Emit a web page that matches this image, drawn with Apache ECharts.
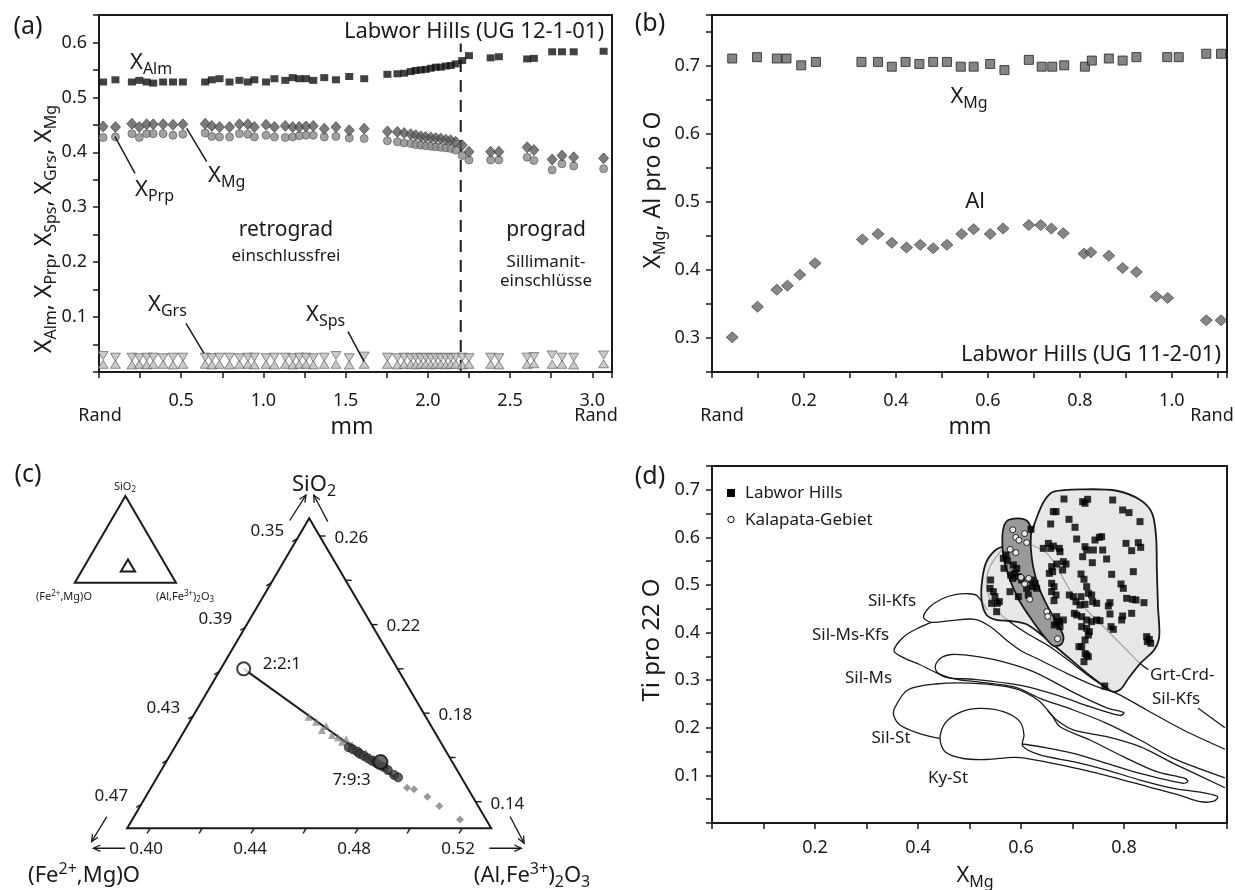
<!DOCTYPE html>
<html>
<head>
<meta charset="utf-8">
<title>Granat- und Biotitchemie</title>
<script src="https://cdn.jsdelivr.net/npm/echarts@6.0.0/dist/echarts.min.js"></script>
<style>
html,body{margin:0;padding:0;background:#fff;}
#chart{width:1235px;height:890px;}
</style>
</head>
<body>
<div id="chart"></div>
<script>
// ================= DATA =================
// ---- Panel (a): garnet profile UG 12-1-01 (distance in mm) ----
const aDist = [0.025,0.10,0.20,0.245,0.29,0.33,0.39,0.45,0.51,0.646,0.686,0.733,0.794,0.854,0.905,0.945,1.016,1.067,1.133,1.178,1.218,1.259,1.303,1.370,1.441,1.522,1.613,1.754,1.815,1.856,1.896,1.926,1.957,1.987,2.018,2.048,2.078,2.109,2.139,2.169,2.209,2.250,2.382,2.432,2.604,2.645,2.756,2.816,2.887,3.069];
const aAlm = [0.528,0.532,0.528,0.531,0.528,0.526,0.528,0.528,0.528,0.528,0.532,0.534,0.528,0.531,0.528,0.532,0.528,0.534,0.531,0.536,0.534,0.534,0.531,0.536,0.532,0.538,0.534,0.542,0.543,0.544,0.547,0.549,0.550,0.551,0.553,0.555,0.555,0.557,0.558,0.561,0.567,0.576,0.572,0.574,0.570,0.571,0.583,0.583,0.583,0.584];
const aMg = [0.447,0.446,0.452,0.446,0.451,0.451,0.451,0.450,0.451,0.452,0.448,0.446,0.446,0.451,0.451,0.446,0.450,0.446,0.448,0.446,0.446,0.447,0.448,0.443,0.446,0.440,0.443,0.438,0.437,0.435,0.433,0.431,0.429,0.428,0.427,0.426,0.425,0.423,0.422,0.419,0.413,0.401,0.401,0.401,0.409,0.404,0.387,0.394,0.391,0.389];
const aPrp = [0.427,0.428,0.434,0.427,0.434,0.434,0.434,0.431,0.433,0.435,0.429,0.428,0.428,0.434,0.433,0.428,0.431,0.428,0.427,0.428,0.430,0.431,0.431,0.428,0.429,0.426,0.425,0.421,0.419,0.417,0.416,0.414,0.413,0.412,0.411,0.410,0.409,0.408,0.407,0.404,0.394,0.386,0.386,0.386,0.391,0.385,0.368,0.379,0.375,0.370];
const aGrs = [0.014,0.014,0.013,0.014,0.013,0.014,0.014,0.013,0.014,0.014,0.013,0.014,0.013,0.014,0.014,0.013,0.014,0.013,0.014,0.013,0.014,0.014,0.013,0.014,0.014,0.013,0.014,0.014,0.013,0.014,0.014,0.013,0.014,0.014,0.013,0.014,0.014,0.013,0.014,0.014,0.013,0.014,0.014,0.013,0.014,0.015,0.014,0.014,0.013,0.015];
const aSps = [0.030,0.027,0.027,0.026,0.027,0.027,0.026,0.027,0.027,0.027,0.026,0.027,0.027,0.026,0.027,0.027,0.026,0.027,0.027,0.026,0.027,0.027,0.026,0.027,0.030,0.026,0.029,0.027,0.026,0.027,0.026,0.027,0.026,0.027,0.026,0.027,0.026,0.027,0.026,0.027,0.027,0.026,0.027,0.026,0.027,0.028,0.031,0.027,0.027,0.031];
const aBoundary = 2.2;      // retrograd / prograd boundary (mm)
const aBoundaryTop = 0.598;

// ---- Panel (b): profile UG 11-2-01 ----
const bMgDist = [0.044,0.098,0.141,0.162,0.194,0.226,0.325,0.361,0.391,0.421,0.451,0.481,0.511,0.541,0.569,0.605,0.636,0.689,0.717,0.740,0.766,0.811,0.826,0.863,0.893,0.923,0.990,1.015,1.075,1.107];
const bXMg = [0.711,0.713,0.711,0.711,0.701,0.706,0.706,0.706,0.699,0.706,0.703,0.706,0.706,0.699,0.699,0.703,0.694,0.709,0.699,0.699,0.701,0.699,0.708,0.711,0.708,0.713,0.713,0.713,0.718,0.718];
const bAlDist = [0.044,0.099,0.141,0.164,0.191,0.224,0.327,0.361,0.391,0.423,0.453,0.481,0.511,0.543,0.569,0.605,0.633,0.689,0.715,0.738,0.764,0.809,0.824,0.863,0.893,0.923,0.966,0.991,1.075,1.107];
const bAl = [0.301,0.346,0.371,0.377,0.393,0.410,0.445,0.453,0.440,0.433,0.437,0.432,0.437,0.453,0.460,0.453,0.461,0.466,0.466,0.461,0.454,0.424,0.426,0.421,0.403,0.397,0.361,0.359,0.326,0.326];

// ---- Panel (c): ternary SiO2 - (Fe,Mg)O - (Al,Fe)2O3, values as [SiO2, (Al,Fe3+)2O3] fractions ----
const T_AMIN = 0.3912, T_SMIN = 0.128, T_SPAN = 0.14;   // shown part of the triangle
const cLeftTicks = [0.35,0.37,0.39,0.41,0.43,0.45,0.47];
const cLeftLabels = [0.35,0.39,0.43,0.47];
const cRightTicks = [0.14,0.16,0.18,0.20,0.22,0.24,0.26];
const cRightLabels = [0.26,0.22,0.18,0.14];
const cBottomTicks = [0.40,0.42,0.44,0.46,0.48,0.50,0.52];
const cBottomLabels = [0.40,0.44,0.48,0.52];
const cRatioA = [2,2,1];   // (Fe,Mg)O : (Al,Fe)2O3 : SiO2
const cRatioB = [7,9,3];
const cTieEnd = [0.1506,0.4833];
const cTriangles = [[0.1784,0.4358],[0.1761,0.4398],[0.1724,0.4439],[0.1742,0.4446],[0.1701,0.4489],[0.1691,0.4517],[0.1671,0.4543],[0.1682,0.4553],[0.1656,0.4589],[0.1634,0.4630],[0.1619,0.4661],[0.1596,0.4703],[0.1574,0.4745],[0.1558,0.4773]];
const cCircles = [[0.1646,0.4581],[0.1637,0.4601],[0.1626,0.4624],[0.1616,0.4639],[0.1607,0.4659],[0.1596,0.4680],[0.1585,0.4701],[0.1576,0.4721],[0.1558,0.4758],[0.1543,0.4783],[0.1521,0.4818],[0.1510,0.4839]];
const cDiamonds = [[0.1463,0.4897],[0.1456,0.4927],[0.1423,0.4995],[0.1381,0.5062],[0.1320,0.5172]];
const cArrows = [
  [[0.267,0.3842],[0.2785,0.3847]], [[0.2665,0.3991],[0.2785,0.3877]],
  [[0.1333,0.3807],[0.1220,0.3805]], [[0.119,0.3949],[0.119,0.3827]],
  [[0.119,0.5350],[0.119,0.5473]], [[0.1333,0.5358],[0.1213,0.5472]]
];

// ---- Panel (d): biotite Ti (pro 22 O) vs X_Mg ----
const dLabwor = [[0.6835,0.6807],[0.7197,0.6751],[0.7294,0.6800],[0.7243,0.6716],[0.778,0.6786],[0.6628,0.6541],[0.668,0.6541],[0.7974,0.6576],[0.8097,0.652],[0.8311,0.6331],[0.6576,0.6282],[0.6932,0.638],[0.7049,0.6212],[0.7521,0.6001],[0.7566,0.6015],[0.7437,0.5945],[0.6576,0.577],[0.6628,0.5819],[0.6744,0.577],[0.6757,0.57],[0.7081,0.5966],[0.7243,0.5805],[0.7275,0.5735],[0.7405,0.5735],[0.7586,0.5735],[0.8039,0.5875],[0.8278,0.5889],[0.8324,0.5791],[0.8149,0.5721],[0.7197,0.5595],[0.7663,0.5546],[0.7385,0.5469],[0.6822,0.549],[0.6874,0.5441],[0.6693,0.5441],[0.6595,0.5385],[0.655,0.5245],[0.6615,0.528],[0.6809,0.5315],[0.7165,0.5231],[0.7761,0.5224],[0.8181,0.528],[0.7223,0.512],[0.7275,0.4965],[0.7942,0.5021],[0.7987,0.493],[0.6595,0.5035],[0.6641,0.4965],[0.6595,0.486],[0.668,0.479],[0.6938,0.479],[0.7016,0.4755],[0.7165,0.4755],[0.7307,0.4825],[0.7372,0.479],[0.7392,0.465],[0.7469,0.4615],[0.8052,0.472],[0.8168,0.4699],[0.8233,0.4685],[0.8388,0.4629],[0.7728,0.4629],[0.7696,0.4559],[0.7068,0.465],[0.7146,0.458],[0.7243,0.4594],[0.6641,0.4671],[0.7036,0.4405],[0.7081,0.437],[0.7178,0.4335],[0.7275,0.4265],[0.7372,0.423],[0.7469,0.4265],[0.7534,0.4251],[0.7728,0.4391],[0.7974,0.4349],[0.7955,0.4265],[0.8149,0.4405],[0.6744,0.423],[0.6822,0.4265],[0.7178,0.4125],[0.7275,0.409],[0.7327,0.402],[0.7748,0.4125],[0.7793,0.4069],[0.6647,0.416],[0.6693,0.4335],[0.7307,0.395],[0.7243,0.3845],[0.7178,0.3705],[0.844,0.3915],[0.8492,0.3859],[0.8518,0.3775],[0.8453,0.381],[0.7275,0.3529],[0.7223,0.3389],[0.7307,0.3494],[0.6194,0.617],[0.5709,0.563],[0.5657,0.556],[0.5735,0.5511],[0.567,0.535],[0.5851,0.542],[0.5916,0.535],[0.5883,0.5245],[0.5799,0.521],[0.5838,0.514],[0.5948,0.5175],[0.6013,0.5105],[0.6207,0.5105],[0.6272,0.5035],[0.6227,0.4965],[0.6304,0.493],[0.611,0.493],[0.5411,0.5105],[0.5398,0.493],[0.5463,0.486],[0.5495,0.4755],[0.554,0.4615],[0.543,0.4615],[0.5579,0.465],[0.5527,0.4439],[0.5786,0.486],[0.5948,0.4755],[0.6142,0.479],[0.6434,0.577],[0.6531,0.5875],[0.6693,0.4209],[0.6757,0.4125],[0.7126,0.3705],[0.7627,0.2878],[0.7245,0.356]];
const dKalapata = [[0.584,0.616],[0.607,0.608],[0.59,0.600],[0.596,0.594],[0.611,0.589],[0.579,0.575],[0.59,0.568],[0.60,0.516],[0.615,0.514],[0.607,0.502],[0.617,0.470],[0.65,0.444],[0.652,0.434],[0.671,0.387]];
// field outlines (X_Mg, Ti)
const dFieldSilKfs = [[0.996,0.155],[0.9152,0.1954],[0.844,0.2374],[0.7858,0.2725],[0.747,0.2864],[0.6887,0.3144],[0.6369,0.3424],[0.60,0.362],[0.5714,0.3845],[0.5408,0.4124],[0.5101,0.428],[0.4643,0.4251],[0.426,0.4216],[0.4107,0.432],[0.4222,0.4531],[0.4451,0.47],[0.4718,0.4796],[0.4987,0.4816],[0.514,0.4783],[0.5239,0.465],[0.535,0.447]];
const dFieldSilMsKfs = [[0.426,0.4216],[0.4031,0.411],[0.3724,0.3914],[0.3534,0.362],[0.3724,0.347],[0.4031,0.333],[0.435,0.316],[0.47,0.303],[0.52,0.296],[0.587,0.286],[0.637,0.262],[0.7016,0.2374],[0.7664,0.2094],[0.8311,0.1744],[0.8958,0.1359],[0.996,0.095]];
const dFieldSilMs = [[0.4336,0.33],[0.445,0.347],[0.465,0.354],[0.49,0.353],[0.5485,0.343],[0.6238,0.318],[0.7016,0.2745],[0.7664,0.242],[0.8,0.2317],[0.7922,0.2259],[0.734,0.2443],[0.6757,0.2665],[0.6,0.289],[0.5088,0.3019],[0.4567,0.3054],[0.4375,0.316]];
const dFieldSilSt = [[0.354,0.24],[0.38,0.2794],[0.4336,0.292],[0.5101,0.2934],[0.5868,0.2829],[0.6327,0.2584],[0.66,0.226],[0.6757,0.2023],[0.734,0.1744],[0.7987,0.1393],[0.8634,0.1078],[0.9184,0.0939],[0.924,0.0875],[0.9152,0.0834],[0.8311,0.1044],[0.7664,0.1254],[0.7016,0.1464],[0.65,0.158],[0.6,0.166],[0.52,0.172],[0.4414,0.1779],[0.3974,0.1898],[0.365,0.2059],[0.354,0.222]];
const dFieldSilStBranch = [[0.652,0.236],[0.6693,0.2164],[0.7016,0.1954],[0.7664,0.1813],[0.8311,0.1603],[0.8958,0.1254],[0.996,0.074]];
const dFieldKySt = [[0.4427,0.1779],[0.4524,0.2094],[0.4816,0.2325],[0.5204,0.2409],[0.5657,0.2339],[0.598,0.2129],[0.6058,0.1849],[0.603,0.162],[0.637,0.1429],[0.7016,0.1288],[0.7664,0.1113],[0.8311,0.0903],[0.8958,0.0729],[0.9606,0.0624],[0.982,0.0553],[0.975,0.046],[0.9476,0.0447],[0.9087,0.058],[0.844,0.077],[0.7793,0.096],[0.7146,0.113],[0.6498,0.128],[0.59,0.138],[0.5333,0.1334],[0.488,0.1355],[0.4524,0.1499]];
const dGrayA = [[0.5625,0.5735],[0.5398,0.5385],[0.5333,0.5035],[0.5431,0.4615],[0.5657,0.4334],[0.6111,0.3985],[0.6563,0.3704],[0.7081,0.3284],[0.75,0.295],[0.7858,0.2725]];
const dGrayB = [[0.6207,0.584],[0.65,0.5666],[0.6693,0.5385],[0.6951,0.4895],[0.7275,0.4475],[0.7664,0.4055],[0.8052,0.3634],[0.831,0.3355],[0.847,0.322]];
const dGrtCrdTail = [[0.944,0.241],[0.996,0.2]];
const dPolyLabwor = [[0.6633,0.696],[0.7245,0.701],[0.7858,0.698],[0.8317,0.6786],[0.8546,0.6506],[0.8623,0.6015],[0.8638,0.5315],[0.866,0.4545],[0.8684,0.3914],[0.8584,0.3634],[0.8317,0.3354],[0.8087,0.304],[0.7934,0.2809],[0.778,0.2759],[0.7627,0.2864],[0.7322,0.3109],[0.7016,0.3389],[0.6709,0.367],[0.6404,0.395],[0.6097,0.418],[0.579,0.4244],[0.5523,0.4265],[0.5332,0.437],[0.5239,0.465],[0.5239,0.5035],[0.5316,0.5455],[0.5485,0.5714],[0.5676,0.5805],[0.5829,0.575],[0.6173,0.605],[0.6287,0.6366],[0.6441,0.675]];
const dPolyKalapata = [[0.5753,0.6366],[0.5944,0.640],[0.6113,0.635],[0.6189,0.619],[0.6189,0.5805],[0.6235,0.5385],[0.6342,0.4965],[0.6518,0.4545],[0.6709,0.4195],[0.6824,0.3914],[0.6786,0.376],[0.6633,0.3718],[0.648,0.388],[0.6212,0.4265],[0.596,0.4685],[0.5775,0.514],[0.566,0.5595],[0.5637,0.6015],[0.5676,0.626]];

// ================= HELPERS =================
const FONT = "'Noto Sans', 'Open Sans', sans-serif";
const INK = '#1a1a1a';
const H = Math.sqrt(3) / 2;
const zip = (xs, ys) => xs.map((x, i) => [x, ys[i]]);
function tern(s, a) { return [a + s / 2, s * H]; }
function ratioSA(r) { const t = r[0] + r[1] + r[2]; return [r[2] / t, r[1] / t]; }
function fmtStep(step, lo, hi, dec) {
  return function (v) {
    const k = v / step;
    return (Math.abs(k - Math.round(k)) < 1e-6 && v > lo - 1e-9 && v < hi + 1e-9) ? v.toFixed(dec) : '';
  };
}
function valAxis(gi, min, max, interval, fmt, margin) {
  return {
    type: 'value', gridIndex: gi, min: min, max: max, interval: interval,
    axisLine: { show: true, onZero: false, lineStyle: { color: INK, width: 2 } },
    axisTick: { show: true, inside: false, length: 6, lineStyle: { color: INK, width: 1.5 } },
    splitLine: { show: false },
    axisLabel: { formatter: fmt, color: INK, fontSize: 18, fontFamily: FONT, margin: margin }
  };
}
function hiddenAxis(gi, min, max) {
  return { type: 'value', gridIndex: gi, min: min, max: max, show: false, splitLine: { show: false } };
}
function richSet(m, s) {
  return {
    m: { fontSize: m, lineHeight: Math.round(m * 1.3), fontFamily: FONT, fill: INK },
    b: { fontSize: s, lineHeight: Math.round(s * 1.0), verticalAlign: 'bottom', fontFamily: FONT, fill: INK },
    t: { fontSize: s, lineHeight: Math.round(s * 1.2), verticalAlign: 'top', fontFamily: FONT, fill: INK }
  };
}
function gText(x, y, text, o) {
  o = o || {};
  const st = { text: text, fontSize: o.size || 18, fontFamily: FONT, fill: INK,
    align: o.align || 'center', verticalAlign: 'middle' };
  if (o.rich) st.rich = o.rich;
  return { type: 'text', x: x, y: y, rotation: o.rot || 0, silent: true, z: 50, style: st };
}
function gLine(x1, y1, x2, y2) {
  return { type: 'line', silent: true, z: 50, shape: { x1: x1, y1: y1, x2: x2, y2: y2 }, style: { stroke: INK, lineWidth: 1.5 } };
}
function seg(p, q, w) {
  return { type: 'line', shape: { x1: p[0], y1: p[1], x2: q[0], y2: q[1] }, style: { stroke: INK, lineWidth: w || 1.4 } };
}
function arrowEls(p1, p2) {
  const dx = p2[0] - p1[0], dy = p2[1] - p1[1], L = Math.hypot(dx, dy) || 1;
  const ux = dx / L, uy = dy / L, hl = 7, hw = 3.2;
  const b = [p2[0] - ux * hl, p2[1] - uy * hl];
  return [seg(p1, p2, 1.3),
    { type: 'polyline', shape: { points: [[b[0] - uy * hw, b[1] + ux * hw], p2, [b[0] + uy * hw, b[1] - ux * hw]] },
      style: { stroke: INK, fill: 'none', lineWidth: 1.3 } }];
}
function cText(x, y, text, align) {
  return { type: 'text', x: x, y: y, style: { text: text, fontSize: 17, fontFamily: FONT, fill: INK, align: align, verticalAlign: 'middle' } };
}

const R23 = richSet(23, 16);
const R22 = richSet(22, 16);
const R11 = richSet(11, 8);

// ================= OPTION =================
const frame = { show: true, borderColor: INK, borderWidth: 2, backgroundColor: 'transparent' };
const option = {
  animation: false,
  backgroundColor: '#fff',
  textStyle: { fontFamily: FONT },
  grid: [
    Object.assign({ left: 99, top: 15, width: 513, height: 357 }, frame),
    Object.assign({ left: 712, top: 15, width: 515, height: 357 }, frame),
    { left: 127.2, top: 518.3, width: 364, height: 310, show: false },
    Object.assign({ left: 712, top: 466, width: 515, height: 357 }, frame),
    { left: 74.8, top: 496, width: 101.2, height: 86.7, show: false }
  ],
  xAxis: [
    valAxis(0, 0, 3.12, 0.25, fmtStep(0.5, 0.5, 3.0, 1), 20),
    valAxis(1, 0, 1.12, 0.1, fmtStep(0.2, 0.2, 1.0, 1), 20),
    hiddenAxis(2, T_AMIN + T_SMIN / 2, T_AMIN + T_SMIN / 2 + T_SPAN),
    valAxis(3, 0, 1, 0.1, fmtStep(0.2, 0.2, 0.8, 1), 16),
    hiddenAxis(4, 0, 1)
  ],
  yAxis: [
    valAxis(0, 0, 0.65, 0.05, fmtStep(0.1, 0.1, 0.6, 1), 12),
    valAxis(1, 0.25, 0.775, 0.05, fmtStep(0.1, 0.3, 0.7, 1), 12),
    hiddenAxis(2, T_SMIN * H, (T_SMIN + T_SPAN) * H),
    valAxis(3, 0, 0.75, 0.05, fmtStep(0.1, 0.1, 0.7, 1), 12),
    hiddenAxis(4, 0, H)
  ],
  series: [
    // ----- (a)
    { type: 'line', xAxisIndex: 0, yAxisIndex: 0, data: [[aBoundary, 0], [aBoundary, aBoundaryTop]], symbol: 'none', silent: true,
      lineStyle: { color: INK, width: 2, type: [12, 8] }, z: 1 },
    { name: 'XGrs', type: 'scatter', xAxisIndex: 0, yAxisIndex: 0, data: zip(aDist, aGrs), symbol: 'triangle', symbolSize: [10, 8],
      itemStyle: { color: '#bcbcbc', borderColor: '#555', borderWidth: 0.8 }, z: 3 },
    { name: 'XSps', type: 'scatter', xAxisIndex: 0, yAxisIndex: 0, data: zip(aDist, aSps), symbol: 'triangle', symbolRotate: 180, symbolSize: [10, 8],
      itemStyle: { color: '#bcbcbc', borderColor: '#555', borderWidth: 0.8 }, z: 3 },
    { name: 'XPrp', type: 'scatter', xAxisIndex: 0, yAxisIndex: 0, data: zip(aDist, aPrp), symbol: 'circle', symbolSize: 8,
      itemStyle: { color: '#8a8a8a', borderColor: '#555', borderWidth: 0.8 }, z: 3 },
    { name: 'XMg', type: 'scatter', xAxisIndex: 0, yAxisIndex: 0, data: zip(aDist, aMg), symbol: 'diamond', symbolSize: [10, 11],
      itemStyle: { color: '#5a5a5a', borderColor: '#333', borderWidth: 0.8 }, z: 4 },
    { name: 'XAlm', type: 'scatter', xAxisIndex: 0, yAxisIndex: 0, data: zip(aDist, aAlm), symbol: 'rect', symbolSize: [8, 7],
      itemStyle: { color: '#111' }, z: 4 },
    // ----- (b)
    { name: 'bXMg', type: 'scatter', xAxisIndex: 1, yAxisIndex: 1, data: zip(bMgDist, bXMg), symbol: 'rect', symbolSize: [9, 9],
      itemStyle: { color: '#666', borderColor: '#222', borderWidth: 1 }, z: 4 },
    { name: 'bAl', type: 'scatter', xAxisIndex: 1, yAxisIndex: 1, data: zip(bAlDist, bAl), symbol: 'diamond', symbolSize: [12, 11],
      itemStyle: { color: '#666', borderColor: '#333', borderWidth: 0.8 }, z: 4 },
    // ----- (c) frame, ticks, arrows, tie line
    { type: 'custom', xAxisIndex: 2, yAxisIndex: 2, data: [[0, 0]], silent: true, z: 2,
      renderItem: function (params, api) {
        const P = (s, a) => api.coord(tern(s, a));
        const ch = [];
        const BL = P(T_SMIN, T_AMIN), BR = P(T_SMIN, T_AMIN + T_SPAN), TP = P(T_SMIN + T_SPAN, T_AMIN);
        ch.push({ type: 'polygon', shape: { points: [BL, BR, TP] }, style: { fill: 'none', stroke: INK, lineWidth: 2, lineJoin: 'miter' } });
        const F_MIN = 1 - T_AMIN - T_SMIN - T_SPAN;
        cLeftTicks.forEach(v => { const p = P(1 - T_AMIN - v, T_AMIN); ch.push(seg(p, [p[0] - 5, p[1] + 3])); });
        cLeftLabels.forEach(v => { const p = P(1 - T_AMIN - v, T_AMIN); ch.push(cText(p[0] - 13, p[1] - 8, v.toFixed(2), 'right')); });
        cRightTicks.forEach(v => { const p = P(v, 1 - F_MIN - v); ch.push(seg(p, [p[0] + 6, p[1]])); });
        cRightLabels.forEach(v => { const p = P(v, 1 - F_MIN - v); ch.push(cText(p[0] + 15, p[1] + 2, v.toFixed(2), 'left')); });
        cBottomTicks.forEach(v => { const p = P(T_SMIN, v); ch.push(seg(p, [p[0] - 3, p[1] + 5])); });
        cBottomLabels.forEach(v => { const p = P(T_SMIN, v); ch.push(cText(p[0] - 4, p[1] + 21, v.toFixed(2), 'center')); });
        cArrows.forEach(ar => { arrowEls(P(ar[0][0], ar[0][1]), P(ar[1][0], ar[1][1])).forEach(e => ch.push(e)); });
        const pA = ratioSA(cRatioA), pB = ratioSA(cRatioB);
        ch.push(seg(P(pA[0], pA[1]), P(cTieEnd[0], cTieEnd[1]), 2));
        const qa = P(pA[0], pA[1]), qb = P(pB[0], pB[1]);
        ch.push(cText(qa[0] + 19, qa[1] - 5, cRatioA.join(':'), 'left'));
        ch.push(cText(qb[0] - 29, qb[1] + 18, cRatioB.join(':'), 'center'));
        return { type: 'group', children: ch };
      } },
    { type: 'scatter', xAxisIndex: 2, yAxisIndex: 2, data: cTriangles.map(p => tern(p[0], p[1])), symbol: 'triangle', symbolSize: 8,
      itemStyle: { color: 'rgba(120,120,120,0.85)' }, z: 3 },
    { type: 'scatter', xAxisIndex: 2, yAxisIndex: 2, data: cDiamonds.map(p => tern(p[0], p[1])), symbol: 'diamond', symbolSize: 8,
      itemStyle: { color: '#7f7f7f' }, z: 3 },
    { type: 'scatter', xAxisIndex: 2, yAxisIndex: 2, data: cCircles.map(p => tern(p[0], p[1])), symbol: 'circle', symbolSize: 9,
      itemStyle: { color: '#3a3a3a', borderColor: '#111', borderWidth: 0.8 }, z: 4 },
    { type: 'scatter', xAxisIndex: 2, yAxisIndex: 2, data: [tern.apply(null, ratioSA(cRatioB))], symbol: 'circle', symbolSize: 14,
      itemStyle: { color: '#4a4a4a', borderColor: '#111', borderWidth: 2 }, z: 5 },
    { type: 'scatter', xAxisIndex: 2, yAxisIndex: 2, data: [tern.apply(null, ratioSA(cRatioA))], symbol: 'circle', symbolSize: 13,
      itemStyle: { color: '#fff', borderColor: '#111', borderWidth: 2 }, z: 5 },
    // ----- (c) inset
    { type: 'custom', xAxisIndex: 4, yAxisIndex: 4, data: [[0, 0]], silent: true, z: 2,
      renderItem: function (params, api) {
        const Q = (s, a) => api.coord(tern(s, a));
        return { type: 'group', children: [
          { type: 'polygon', shape: { points: [Q(0, 0), Q(0, 1), Q(1, 0)] }, style: { fill: 'none', stroke: INK, lineWidth: 2 } },
          { type: 'polygon', shape: { points: [Q(T_SMIN, T_AMIN), Q(T_SMIN, T_AMIN + T_SPAN), Q(T_SMIN + T_SPAN, T_AMIN)] },
            style: { fill: 'none', stroke: INK, lineWidth: 2 } }
        ] };
      } },
    // ----- (d) fields
    { type: 'custom', xAxisIndex: 3, yAxisIndex: 3, data: [[0, 0]], silent: true, z: 2,
      renderItem: function (params, api) {
        const C = pts => pts.map(p => api.coord(p));
        const sm = 0.3;
        const open = (pts) => ({ type: 'polyline', shape: { points: C(pts), smooth: sm }, style: { fill: 'none', stroke: INK, lineWidth: 1.3 } });
        const closed = (pts, fill, w) => ({ type: 'polygon', shape: { points: C(pts), smooth: sm }, style: { fill: fill || 'none', stroke: INK, lineWidth: w || 1.3 } });
        return { type: 'group', children: [
          open(dFieldSilKfs), open(dFieldSilMsKfs), closed(dFieldSilMs), closed(dFieldSilSt), open(dFieldSilStBranch),
          closed(dFieldKySt, '#fff'),
          open(dGrayA), open(dGrayB), open(dGrtCrdTail),
          closed(dPolyLabwor, 'rgba(222,222,222,0.72)', 1.8),
          closed(dPolyKalapata, '#9a9a9a', 1.8)
        ] };
      } },
    { name: 'Labwor Hills', type: 'scatter', xAxisIndex: 3, yAxisIndex: 3, data: dLabwor, symbol: 'rect', symbolSize: 7,
      itemStyle: { color: '#000' }, z: 5 },
    { name: 'Kalapata-Gebiet', type: 'scatter', xAxisIndex: 3, yAxisIndex: 3, data: dKalapata, symbol: 'circle', symbolSize: 6,
      itemStyle: { color: '#fff', borderColor: '#000', borderWidth: 1 }, z: 6 }
  ],
  graphic: { elements: [
    // panel letters
    gText(28, 27, '(a)', { size: 25 }), gText(650, 24, '(b)', { size: 25 }),
    gText(28, 475, '(c)', { size: 25 }), gText(650, 477, '(d)', { size: 25 }),
    // (a)
    gText(604, 32, 'Labwor Hills (UG 12-1-01)', { size: 22, align: 'right' }),
    gText(130, 63, '{m|X}{b|Alm}', { align: 'left', rich: R22 }),
    gText(208, 176, '{m|X}{b|Mg}', { align: 'left', rich: R22 }),
    gText(135, 190, '{m|X}{b|Prp}', { align: 'left', rich: R22 }),
    gText(148, 305, '{m|X}{b|Grs}', { align: 'left', rich: R22 }),
    gText(306, 315, '{m|X}{b|Sps}', { align: 'left', rich: R22 }),
    gLine(115, 136.7, 135, 173.3), gLine(186.7, 128.3, 206.7, 161.7),
    gLine(186, 323.3, 204, 353.3), gLine(348, 331.7, 364, 361.7),
    gText(286, 230, 'retrograd', { size: 21 }), gText(286, 256, 'einschlussfrei', { size: 17 }),
    gText(546, 230, 'prograd', { size: 21 }), gText(546, 262, 'Sillimanit-', { size: 17 }), gText(546, 281, 'einschlüsse', { size: 17 }),
    gText(100, 416, 'Rand', { size: 18 }), gText(596, 416, 'Rand', { size: 18 }),
    gText(352, 427, 'mm', { size: 23 }),
    gText(44, 229, '{m|X}{b|Alm}{m|, X}{b|Prp}{m|, X}{b|Sps}{m|, X}{b|Grs}{m|, X}{b|Mg}', { rot: Math.PI / 2, rich: R23 }),
    // (b)
    gText(969, 97, '{m|X}{b|Mg}', { rich: R22 }),
    gText(975, 202, 'Al', { size: 22 }),
    gText(1221, 355, 'Labwor Hills (UG 11-2-01)', { size: 22, align: 'right' }),
    gText(722, 416, 'Rand', { size: 18 }), gText(1212, 416, 'Rand', { size: 18 }),
    gText(970, 427, 'mm', { size: 23 }),
    gText(653, 190, '{m|X}{b|Mg}{m|, Al pro 6 O}', { rot: Math.PI / 2, rich: R23 }),
    // (c)
    gText(314, 485, '{m|SiO}{b|2}', { rich: R22 }),
    gText(84, 876, '{m|(Fe}{t|2+}{m|,Mg)O}', { rich: R22 }),
    gText(532, 876, '{m|(Al,Fe}{t|3+}{m|)}{b|2}{m|O}{b|3}', { rich: R22 }),
    gText(125, 487, '{m|SiO}{b|2}', { rich: R11 }),
    gText(64, 597, '{m|(Fe}{t|2+}{m|,Mg)O}', { rich: R11 }),
    gText(185, 597, '{m|(Al,Fe}{t|3+}{m|)}{b|2}{m|O}{b|3}', { rich: R11 }),
    // (d)
    { type: 'rect', silent: true, z: 50, shape: { x: 727, y: 489, width: 8, height: 8 }, style: { fill: '#000' } },
    gText(745, 493, 'Labwor Hills', { size: 17, align: 'left' }),
    { type: 'circle', silent: true, z: 50, shape: { cx: 731, cy: 519.5, r: 3.2 }, style: { fill: '#fff', stroke: '#000', lineWidth: 1 } },
    gText(745, 520, 'Kalapata-Gebiet', { size: 17, align: 'left' }),
    gText(892, 601.5, 'Sil-Kfs', { size: 17 }),
    gText(850.5, 635, 'Sil-Ms-Kfs', { size: 17 }),
    gText(868.5, 678.5, 'Sil-Ms', { size: 17 }),
    gText(891, 738.5, 'Sil-St', { size: 17 }),
    gText(948, 778.5, 'Ky-St', { size: 17 }),
    gText(1150, 675.5, 'Grt-Crd-', { size: 17, align: 'left' }),
    gText(1152, 699.5, 'Sil-Kfs', { size: 17, align: 'left' }),
    gText(652, 640, 'Ti pro 22 O', { size: 24, rot: Math.PI / 2 }),
    gText(975, 876, '{m|X}{b|Mg}', { rich: R22 })
  ] }
};

const chart = echarts.init(document.getElementById('chart'), null, { renderer: 'canvas' });
chart.setOption(option);
</script>
</body>
</html>
